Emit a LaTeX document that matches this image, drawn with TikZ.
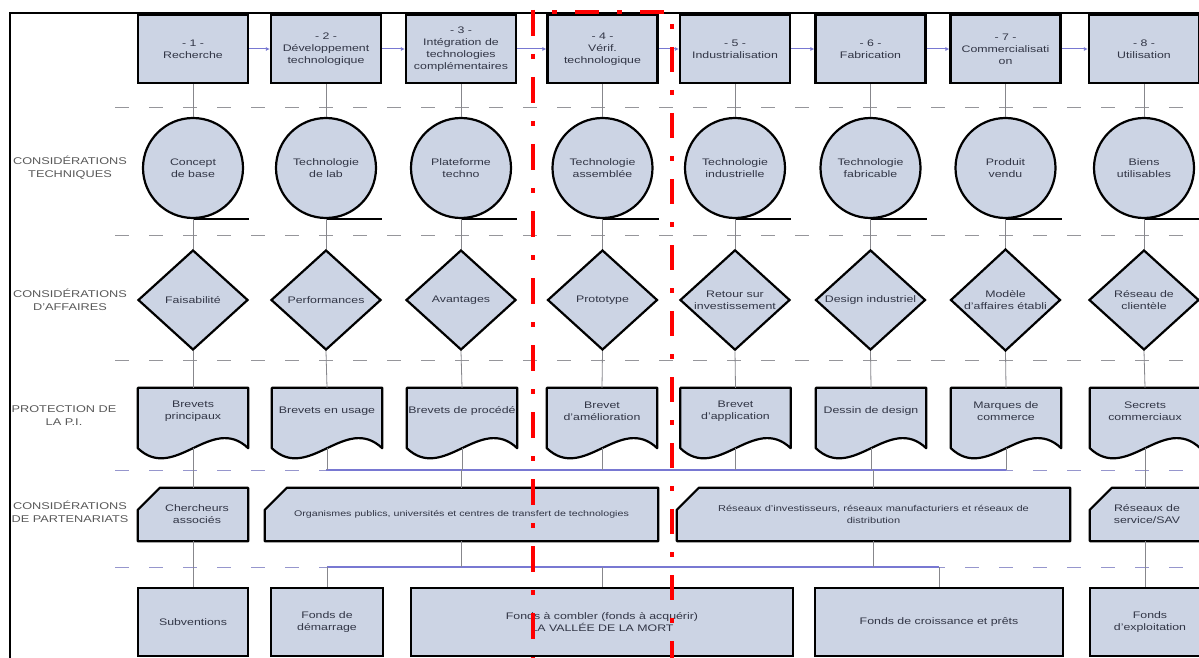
\documentclass[tikz,border=0pt]{standalone}
\usepackage{fontspec}
\setmainfont[FakeStretch=1.3]{Liberation Sans}
\usetikzlibrary{shapes.geometric,arrows.meta,calc}
\definecolor{boxfill}{RGB}{204,212,228}
\definecolor{txt}{RGB}{50,54,70}
\definecolor{conncol}{RGB}{135,135,140}
\definecolor{busblue}{RGB}{120,120,210}
\definecolor{sepgray}{RGB}{150,150,155}
\definecolor{sepblue}{RGB}{150,150,205}
\begin{document}
\begin{tikzpicture}[x=1pt,y=-1pt,
  every node/.style={font=\fontsize{9.5}{12}\selectfont, text=txt, align=center},
  stage/.style={draw=black, line width=2.2pt, fill=boxfill, minimum width=110pt, minimum height=68pt, inner sep=1pt},
  techc/.style={circle, draw=black, line width=2.2pt, fill=boxfill, minimum size=100pt, inner sep=0pt},
  affd/.style={diamond, draw=black, line width=2.2pt, fill=boxfill, minimum width=110pt, minimum height=100pt, inner sep=0pt},
  ghost/.style={minimum width=110pt, minimum height=60pt, inner sep=0pt},
  outline/.style={draw=black, line width=2.2pt, fill=boxfill, line join=round},
  tail/.style={draw=black, line width=2.6pt},
  vconn/.style={draw=conncol, line width=0.8pt},
  bus/.style={draw=busblue, line width=1.4pt},
  flow/.style={draw=busblue, line width=1pt, -{Latex[length=4pt,width=4pt]}},
  sepline/.style={dash pattern=on 14pt off 20pt, line width=1pt},
  redline/.style={draw=red, line width=4.5pt},
  rowlab/.style={text=black!65, font=\fontsize{9.8}{13}\selectfont}
]
\useasboundingbox (0,0) rectangle (1199,658);
\clip (0,0) rectangle (1199,658);
\fill[white] (0,0) rectangle (1199,658);

% separators
\draw[sepline, draw=sepgray] (115,108) -- (1199,108);
\draw[sepline, draw=sepgray] (115,235) -- (1199,235);
\draw[sepline, draw=sepgray] (115,360) -- (1199,360);
\draw[sepline, draw=sepblue] (115,470) -- (1199,470);
\draw[sepline, draw=sepblue] (115,567) -- (1199,567);

% row labels
\node[rowlab] (r1) at (70,168) {CONSIDÉRATIONS\\TECHNIQUES};
\node[rowlab] (r2) at (70,300) {CONSIDÉRATIONS\\D'AFFAIRES};
\node[rowlab] (r3) at (64,416) {PROTECTION DE\\LA P.I.};
\node[rowlab] (r4) at (70,512) {CONSIDÉRATIONS\\DE PARTENARIATS};

% stages
\node[stage] (s1) at (193,49) {- 1 -\\Recherche};
\node[stage] (s2) at (326,49) {- 2 -\\Développement\\technologique};
\node[stage] (s3) at (461,49) {- 3 -\\Intégration de\\technologies\\complémentaires};
\node[stage] (s4) at (602.5,49) {- 4 -\\Vérif.\\technologique};
\node[stage] (s5) at (735,49) {- 5 -\\Industrialisation};
\node[stage] (s6) at (870.5,49) {- 6 -\\Fabrication};
\node[stage] (s7) at (1005.5,49) {- 7 -\\Commercialisati\\on};
\node[stage] (s8) at (1144,49) {- 8 -\\Utilisation};
\foreach \a/\b in {s1/s2,s2/s3,s3/s4,s4/s5,s5/s6,s6/s7,s7/s8}
  \draw[flow] (\a.east) -- (\b.west);

% technical circles
\node[techc] (c1) at (193,168) {Concept\\de base};
\node[techc] (c2) at (326,168) {Technologie\\de lab};
\node[techc] (c3) at (461,168) {Plateforme\\techno};
\node[techc] (c4) at (602.5,168) {Technologie\\assemblée};
\node[techc] (c5) at (735,168) {Technologie\\industrielle};
\node[techc] (c6) at (870.5,168) {Technologie\\fabricable};
\node[techc] (c7) at (1005.5,168) {Produit\\vendu};
\node[techc] (c8) at (1144,168) {Biens\\utilisables};
\foreach \i in {1,...,8} \draw[tail] (c\i.south) -- ++(56,0);

% business diamonds
\node[affd] (a1) at (193,300) {Faisabilité};
\node[affd] (a2) at (326,300) {Performances};
\node[affd] (a3) at (461,300) {Avantages};
\node[affd] (a4) at (602.5,300) {Prototype};
\node[affd] (a5) at (735,300) {Retour sur\\investissement};
\node[affd] (a6) at (870.5,300) {Design industriel};
\node[affd] (a7) at (1005.5,300) {Modèle\\d'affaires établi};
\node[affd] (a8) at (1144,300) {Réseau de\\clientèle};

% IP documents
\foreach \i/\x in {1/193,2/327,3/462,4/602,5/735.5,6/871,7/1006,8/1145}{
  \node[ghost] (d\i) at (\x,418) {};
  \draw[outline] (d\i.north west) -- (d\i.north east) -- (d\i.south east)
    .. controls +(-36.7,-35) and +(36.7,35) .. (d\i.south west) -- cycle;
}
\node (t1) at ([yshift=7pt]d1.center) {Brevets\\principaux};
\node (t2) at ([yshift=7pt]d2.center) {Brevets en usage};
\node (t3) at ([yshift=7pt]d3.center) {Brevets de procédé};
\node (t4) at ([yshift=7pt]d4.center) {Brevet\\d'amélioration};
\node (t5) at ([yshift=7pt]d5.center) {Brevet\\d'application};
\node (t6) at ([yshift=7pt]d6.center) {Dessin de design};
\node (t7) at ([yshift=7pt]d7.center) {Marques de\\commerce};
\node (t8) at ([yshift=7pt]d8.center) {Secrets\\commerciaux};

% vertical connectors stage -> circle -> diamond -> doc
\foreach \i in {1,...,8}{
  \draw[vconn] (s\i.south) -- (c\i.north);
  \draw[vconn] (c\i.south) -- (a\i.north);
  \draw[vconn] (a\i.south) -- (d\i.north);
}

% partnership cards
\foreach \i/\x/\w in {1/193/110,2/461.5/393,3/873.5/393,4/1150/120}{
  \node[ghost, minimum width=\w pt, minimum height=53pt] (k\i) at (\x,514.5) {};
  \draw[outline] ($(k\i.north west)+(22,0)$) -- (k\i.north east) -- (k\i.south east)
    -- (k\i.south west) -- ($(k\i.north west)+(0,22)$) -- cycle;
}
\node (kt1) at ([xshift=4pt]k1.center) {Chercheurs\\associés};
\node[font=\fontsize{8.2}{10}\selectfont] (kt2) at (k2.center) {Organismes publics, universités et centres de transfert de technologies};
\node[font=\fontsize{8.5}{12}\selectfont] (kt3) at (k3.center) {Réseaux d'investisseurs, réseaux manufacturiers et réseaux de\\distribution};
\node (kt4) at ([xshift=-3pt]k4.center) {Réseaux de\\service/SAV};

% funding boxes
\node[stage, minimum width=110pt] (f1) at (193,622) {Subventions};
\node[stage, minimum width=112pt] (f2) at (327,622) {Fonds de\\démarrage};
\node[stage, minimum width=382pt] (f3) at (602,622) {Fonds à combler (fonds à acquérir)\\LA VALLÉE DE LA MORT};
\node[stage, minimum width=248pt] (f4) at (939,622) {Fonds de croissance et prêts};
\node[stage, minimum width=120pt] (f5) at (1150,622) {Fonds\\d'exploitation};

% buses
\coordinate (ba1) at (326,470);
\coordinate (ba2) at (1005.5,470);
\coordinate (bb1) at (327,567);
\coordinate (bb2) at (939,567);
\draw[bus] (ba1) -- (ba2);
\draw[bus] (bb1) -- (bb2);
\foreach \i in {2,...,7} \draw[vconn] (d\i.south) -- (d\i.south |- ba1);
\draw[vconn] (d1.south) -- (d1.south |- k1.north);
\draw[vconn] (d8.south) -- (d8.south |- k4.north);
\draw[vconn] (k2.north |- ba1) -- (k2.north);
\draw[vconn] (k3.north |- ba1) -- (k3.north);
\draw[vconn] (k2.south) -- (k2.south |- bb1);
\draw[vconn] (k3.south) -- (k3.south |- bb1);
\draw[vconn] (f2.north |- bb1) -- (f2.north);
\draw[vconn] (f3.north |- bb1) -- (f3.north);
\draw[vconn] (f4.north |- bb1) -- (f4.north);
\draw[vconn] (k1.south -| d1.south) -- (f1.north -| d1.south);
\draw[vconn] (k4.south -| d8.south) -- (f5.north -| d8.south);

% frame
\draw[line width=2pt] (10,662) -- (10,13) -- (1203,13);

% red dash-dot markers
\draw[redline, dash pattern=on 26pt off 18pt on 5pt off 18pt] (533,10) -- (533,662);
\draw[redline, dash pattern=on 5pt off 18pt on 24pt off 18pt] (552,12) -- (668,12);
\draw[redline, dash pattern=on 5pt off 18pt on 25pt off 18pt] (672,24) -- (672,662);
\end{tikzpicture}
\end{document}
